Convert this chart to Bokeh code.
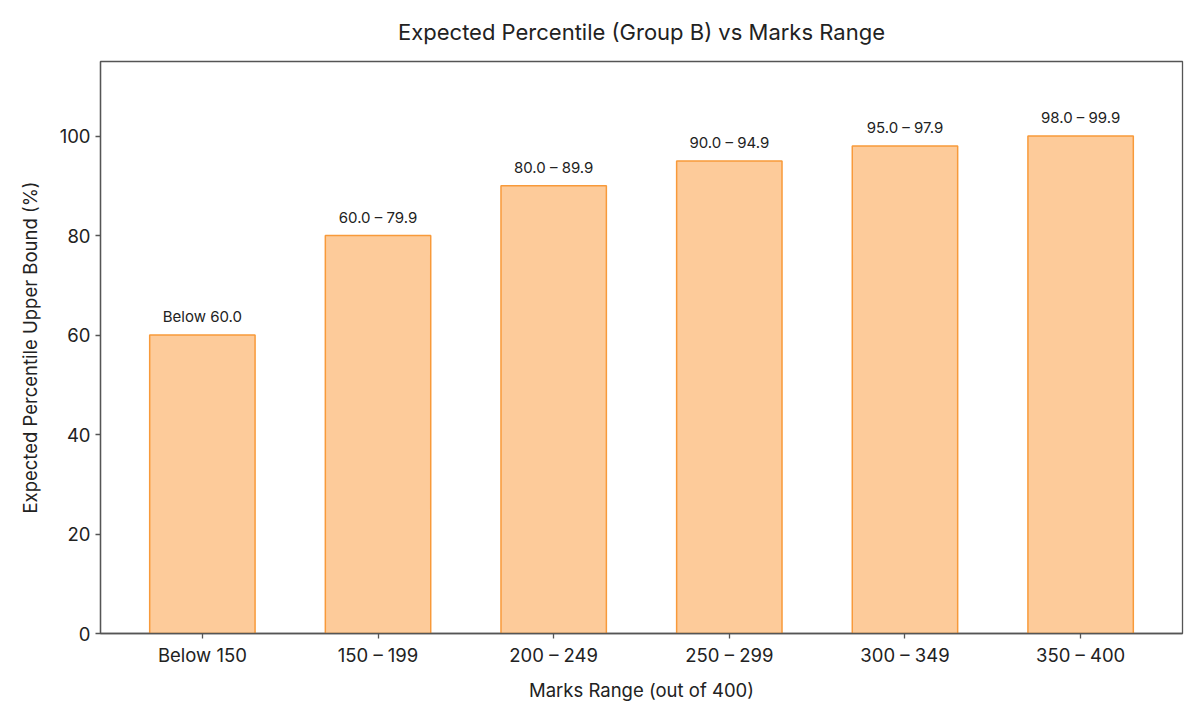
from bokeh.plotting import figure
from bokeh.models import ColumnDataSource, Range1d, FixedTicker
from bokeh.core.properties import value
from bokeh.embed import file_html
from bokeh.resources import INLINE

categories = ["Below 150", "150 – 199", "200 – 249", "250 – 299", "300 – 349", "350 – 400"]
upper_bounds = [60, 80, 90, 95, 98, 100]
percentile_labels = ["Below 60.0", "60.0 – 79.9", "80.0 – 89.9", "90.0 – 94.9", "95.0 – 97.9", "98.0 – 99.9"]

FONT = "Inter"
idx = list(range(len(categories)))
src = ColumnDataSource(dict(x=idx, top=upper_bounds, lab=percentile_labels))

p = figure(width=1200, height=720, output_backend="svg", toolbar_location=None,
           x_range=Range1d(-0.58, 5.58), y_range=Range1d(0, 115),
           min_border_left=100, min_border_right=18, min_border_top=61, min_border_bottom=87)

p.vbar(x="x", top="top", width=0.6, source=src, fill_color="#FDCB9A",
       line_color="#F89A3A", line_width=1.5)
p.text(x="x", y="top", text="lab", source=src, text_align="center", text_baseline="bottom",
       y_offset=-9, text_font=value(FONT), text_font_size="15px", text_color="#222222")

p.title.text = "Expected Percentile (Group B) vs Marks Range"
p.title.align = "center"
p.title.text_font = FONT
p.title.text_font_size = "22px"
p.title.text_font_style = "normal"
p.title.text_color = "#222222"
p.title.standoff = 33

p.xgrid.visible = False
p.ygrid.visible = False
p.outline_line_color = "#555555"
p.outline_line_width = 1.3

p.xaxis.ticker = FixedTicker(ticks=idx)
p.xaxis.major_label_overrides = {i: c for i, c in zip(idx, categories)}
p.yaxis.ticker = FixedTicker(ticks=[0, 20, 40, 60, 80, 100])
p.xaxis.axis_label = "Marks Range (out of 400)"
p.yaxis.axis_label = "Expected Percentile Upper Bound (%)"

for ax in (p.xaxis, p.yaxis):
    ax.axis_line_color = "#555555"
    ax.axis_line_width = 1.3
    ax.major_tick_line_color = "#555555"
    ax.major_tick_line_width = 1.3
    ax.major_tick_out = 5
    ax.major_tick_in = 0
    ax.minor_tick_line_color = None
    ax.major_label_text_font = FONT
    ax.major_label_text_font_size = "18.5px"
    ax.major_label_text_color = "#222222"
    ax.axis_label_text_font = FONT
    ax.axis_label_text_font_size = "18.5px"
    ax.axis_label_text_font_style = "normal"
    ax.axis_label_text_color = "#222222"
    ax.major_label_standoff = 5
p.xaxis.axis_label_standoff = 10
p.yaxis.axis_label_standoff = 16

open("out.html", "w").write(file_html(p, INLINE))
